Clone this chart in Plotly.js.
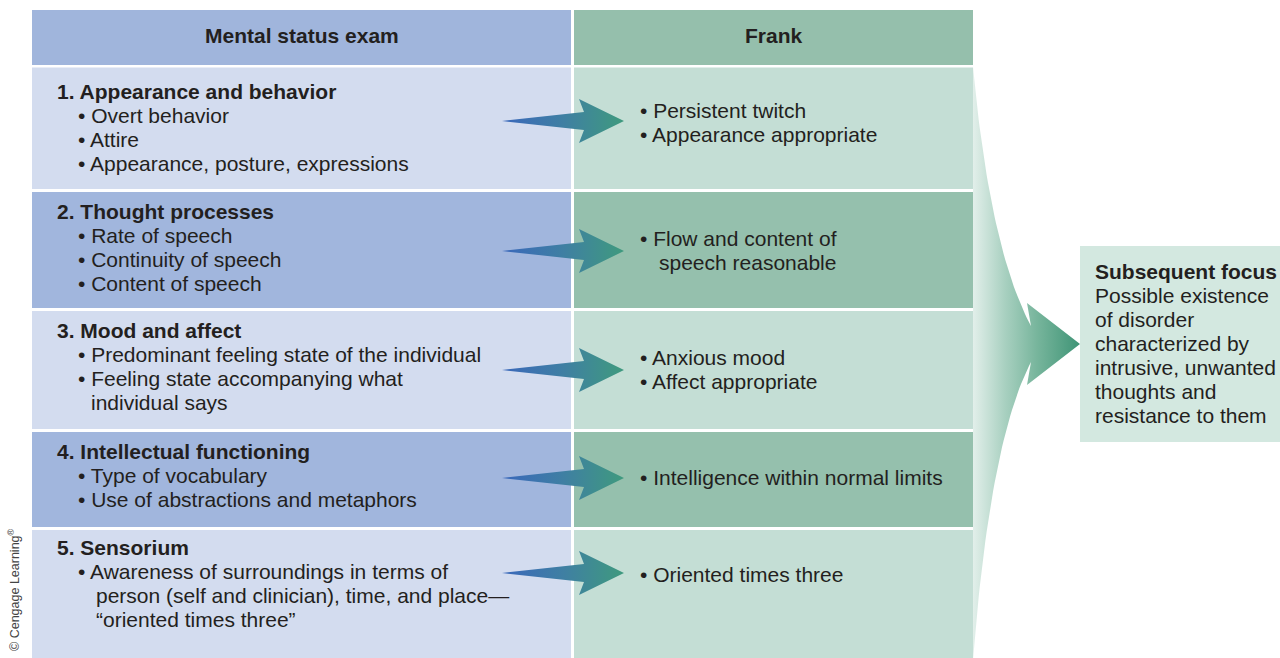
<!DOCTYPE html>
<html>
<head>
<meta charset="utf-8">
<script src="https://cdn.plot.ly/plotly-3.0.1.min.js"></script>
<style>html,body{margin:0;padding:0;background:#fff;}#chart{width:1280px;height:658px;}</style>
</head>
<body>
<div id="chart"></div>
<script>
// ---- content ----
const headers = ["Mental status exam", "Frank"];
const rowTitles = ["1. Appearance and behavior", "2. Thought processes", "3. Mood and affect",
                   "4. Intellectual functioning", "5. Sensorium"];
const examLines = [
  ["• Overt behavior", "• Attire", "• Appearance, posture, expressions"],
  ["• Rate of speech", "• Continuity of speech", "• Content of speech"],
  ["• Predominant feeling state of the individual", "• Feeling state accompanying what", "individual says"],
  ["• Type of vocabulary", "• Use of abstractions and metaphors"],
  ["• Awareness of surroundings in terms of", "person (self and clinician), time, and place—", "“oriented times three”"]
];
const frankLines = [
  ["• Persistent twitch", "• Appearance appropriate"],
  ["• Flow and content of", "speech reasonable"],
  ["• Anxious mood", "• Affect appropriate"],
  ["• Intelligence within normal limits"],
  ["• Oriented times three"]
];
const focusTitle = "Subsequent focus";
const focusLines = ["Possible existence", "of disorder", "characterized by", "intrusive, unwanted",
                    "thoughts and", "resistance to them"];
const credit = "© Cengage Learning<sup>®</sup>";

// ---- layout geometry (pixels) ----
const W = 1280, H = 658;
const colL = [32, 571], colR = [574, 973];
const headerY = [10, 65];
const rowY = [[67.5, 189], [192, 308], [311, 429], [432, 527], [530, 662]];
const titleY = [91, 211, 330, 451, 547];
const frankY = [110, 238, 357, 477, 574];
const arrowY = [121, 251, 370, 478, 573];
const contIndent = [89, 89, 89, 89, 94];
const lineH = 24;
const FONT = "Liberation Sans, Arial, Helvetica, sans-serif";
const FS = 21;
const INK = "#231f20";

const colors = {
  headL: "#a0b5dc", headR: "#95bfac",
  lightL: "#d3dcef", darkL: "#a1b6dd",
  lightR: "#c4ded5", darkR: "#95c0ad",
  focus: "#d3e8e0"
};

const shapes = [];
const annotations = [];
function rect(x0, x1, y0, y1, c) {
  shapes.push({type: "rect", xref: "x", yref: "y", x0, x1, y0, y1, fillcolor: c,
               line: {width: 0}, layer: "below"});
}
function txt(x, y, t, opts) {
  opts = opts || {};
  annotations.push(Object.assign({x, y, xref: "x", yref: "y", text: t, showarrow: false,
    xanchor: "left", yanchor: "middle", align: "left",
    font: {family: FONT, size: FS, color: INK}}, opts));
}

// header
rect(colL[0], colL[1], headerY[0], headerY[1], colors.headL);
rect(colR[0], colR[1], headerY[0], headerY[1], colors.headR);
txt((colL[0] + colL[1]) / 2, 35.5, "<b>" + headers[0] + "</b>", {xanchor: "center"});
txt((colR[0] + colR[1]) / 2, 35.5, "<b>" + headers[1] + "</b>", {xanchor: "center"});

// rows
rowTitles.forEach((t, i) => {
  const dark = i % 2 === 1;
  rect(colL[0], colL[1], rowY[i][0], rowY[i][1], dark ? colors.darkL : colors.lightL);
  rect(colR[0], colR[1], rowY[i][0], rowY[i][1], dark ? colors.darkR : colors.lightR);
  txt(55, titleY[i], "<b>" + t + "</b>");
  examLines[i].forEach((l, k) => {
    const isBullet = l.startsWith("•");
    txt(isBullet ? 76 : contIndent[i], titleY[i] + lineH * (k + 1), l);
  });
  frankLines[i].forEach((l, k) => {
    const isBullet = l.startsWith("•");
    txt(isBullet ? 638 : 657, frankY[i] + lineH * k, l);
  });
});

// focus box
rect(1080, 1300, 246, 442, colors.focus);
txt(1093, 271, "<b>" + focusTitle + "</b>");
focusLines.forEach((l, k) => txt(1093, 295 + lineH * k, l));

// credit
annotations.push({x: 14, y: 590, xref: "x", yref: "y", text: credit, showarrow: false,
  textangle: -90, xanchor: "center", yanchor: "middle",
  font: {family: FONT, size: 12.5, color: "#444"}});

// ---- arrows ----
const traces = [];
arrowY.forEach(c => {
  traces.push({
    type: "scatter", mode: "lines", hoverinfo: "skip",
    x: [502, 584, 579, 624, 579, 584, 502],
    y: [c, c - 9, c - 22, c, c + 22, c + 9, c],
    fill: "toself",
    fillgradient: {type: "horizontal", colorscale: [[0, "#3a68bb"], [0.5, "#3f7fa3"], [1, "#3f9a7e"]]},
    line: {width: 0, color: "rgba(0,0,0,0)"}
  });
});

function quad(p0, p1, p2, n) {
  const xs = [], ys = [];
  for (let i = 0; i <= n; i++) {
    const t = i / n, a = (1 - t) * (1 - t), b = 2 * t * (1 - t), d = t * t;
    xs.push(a * p0[0] + b * p1[0] + d * p2[0]);
    ys.push(a * p0[1] + b * p1[1] + d * p2[1]);
  }
  return [xs, ys];
}
const up = quad([973, 67], [990, 250], [1031, 326], 40);
const lo = quad([1031, 362], [990, 440], [973, 660], 40);
const bx = [...up[0], 1027, 1080, 1027, ...lo[0], 973];
const by = [...up[1], 303, 344, 385, ...lo[1], 67];
traces.push({
  type: "scatter", mode: "lines", hoverinfo: "skip", x: bx, y: by, fill: "toself",
  fillgradient: {type: "horizontal",
    colorscale: [[0, "#e2efea"], [0.3, "#a8d0c0"], [0.6, "#77b59c"], [1, "#3f9476"]]},
  line: {width: 0, color: "rgba(0,0,0,0)"}
});

const layout = {
  width: W, height: H,
  margin: {l: 0, r: 0, t: 0, b: 0, pad: 0},
  paper_bgcolor: "#ffffff", plot_bgcolor: "#ffffff",
  showlegend: false,
  xaxis: {range: [0, W], visible: false, fixedrange: true, showgrid: false, zeroline: false},
  yaxis: {range: [H, 0], visible: false, fixedrange: true, showgrid: false, zeroline: false},
  shapes, annotations
};
Plotly.newPlot("chart", traces, layout, {displayModeBar: false, staticPlot: true});
</script>
</body>
</html>
